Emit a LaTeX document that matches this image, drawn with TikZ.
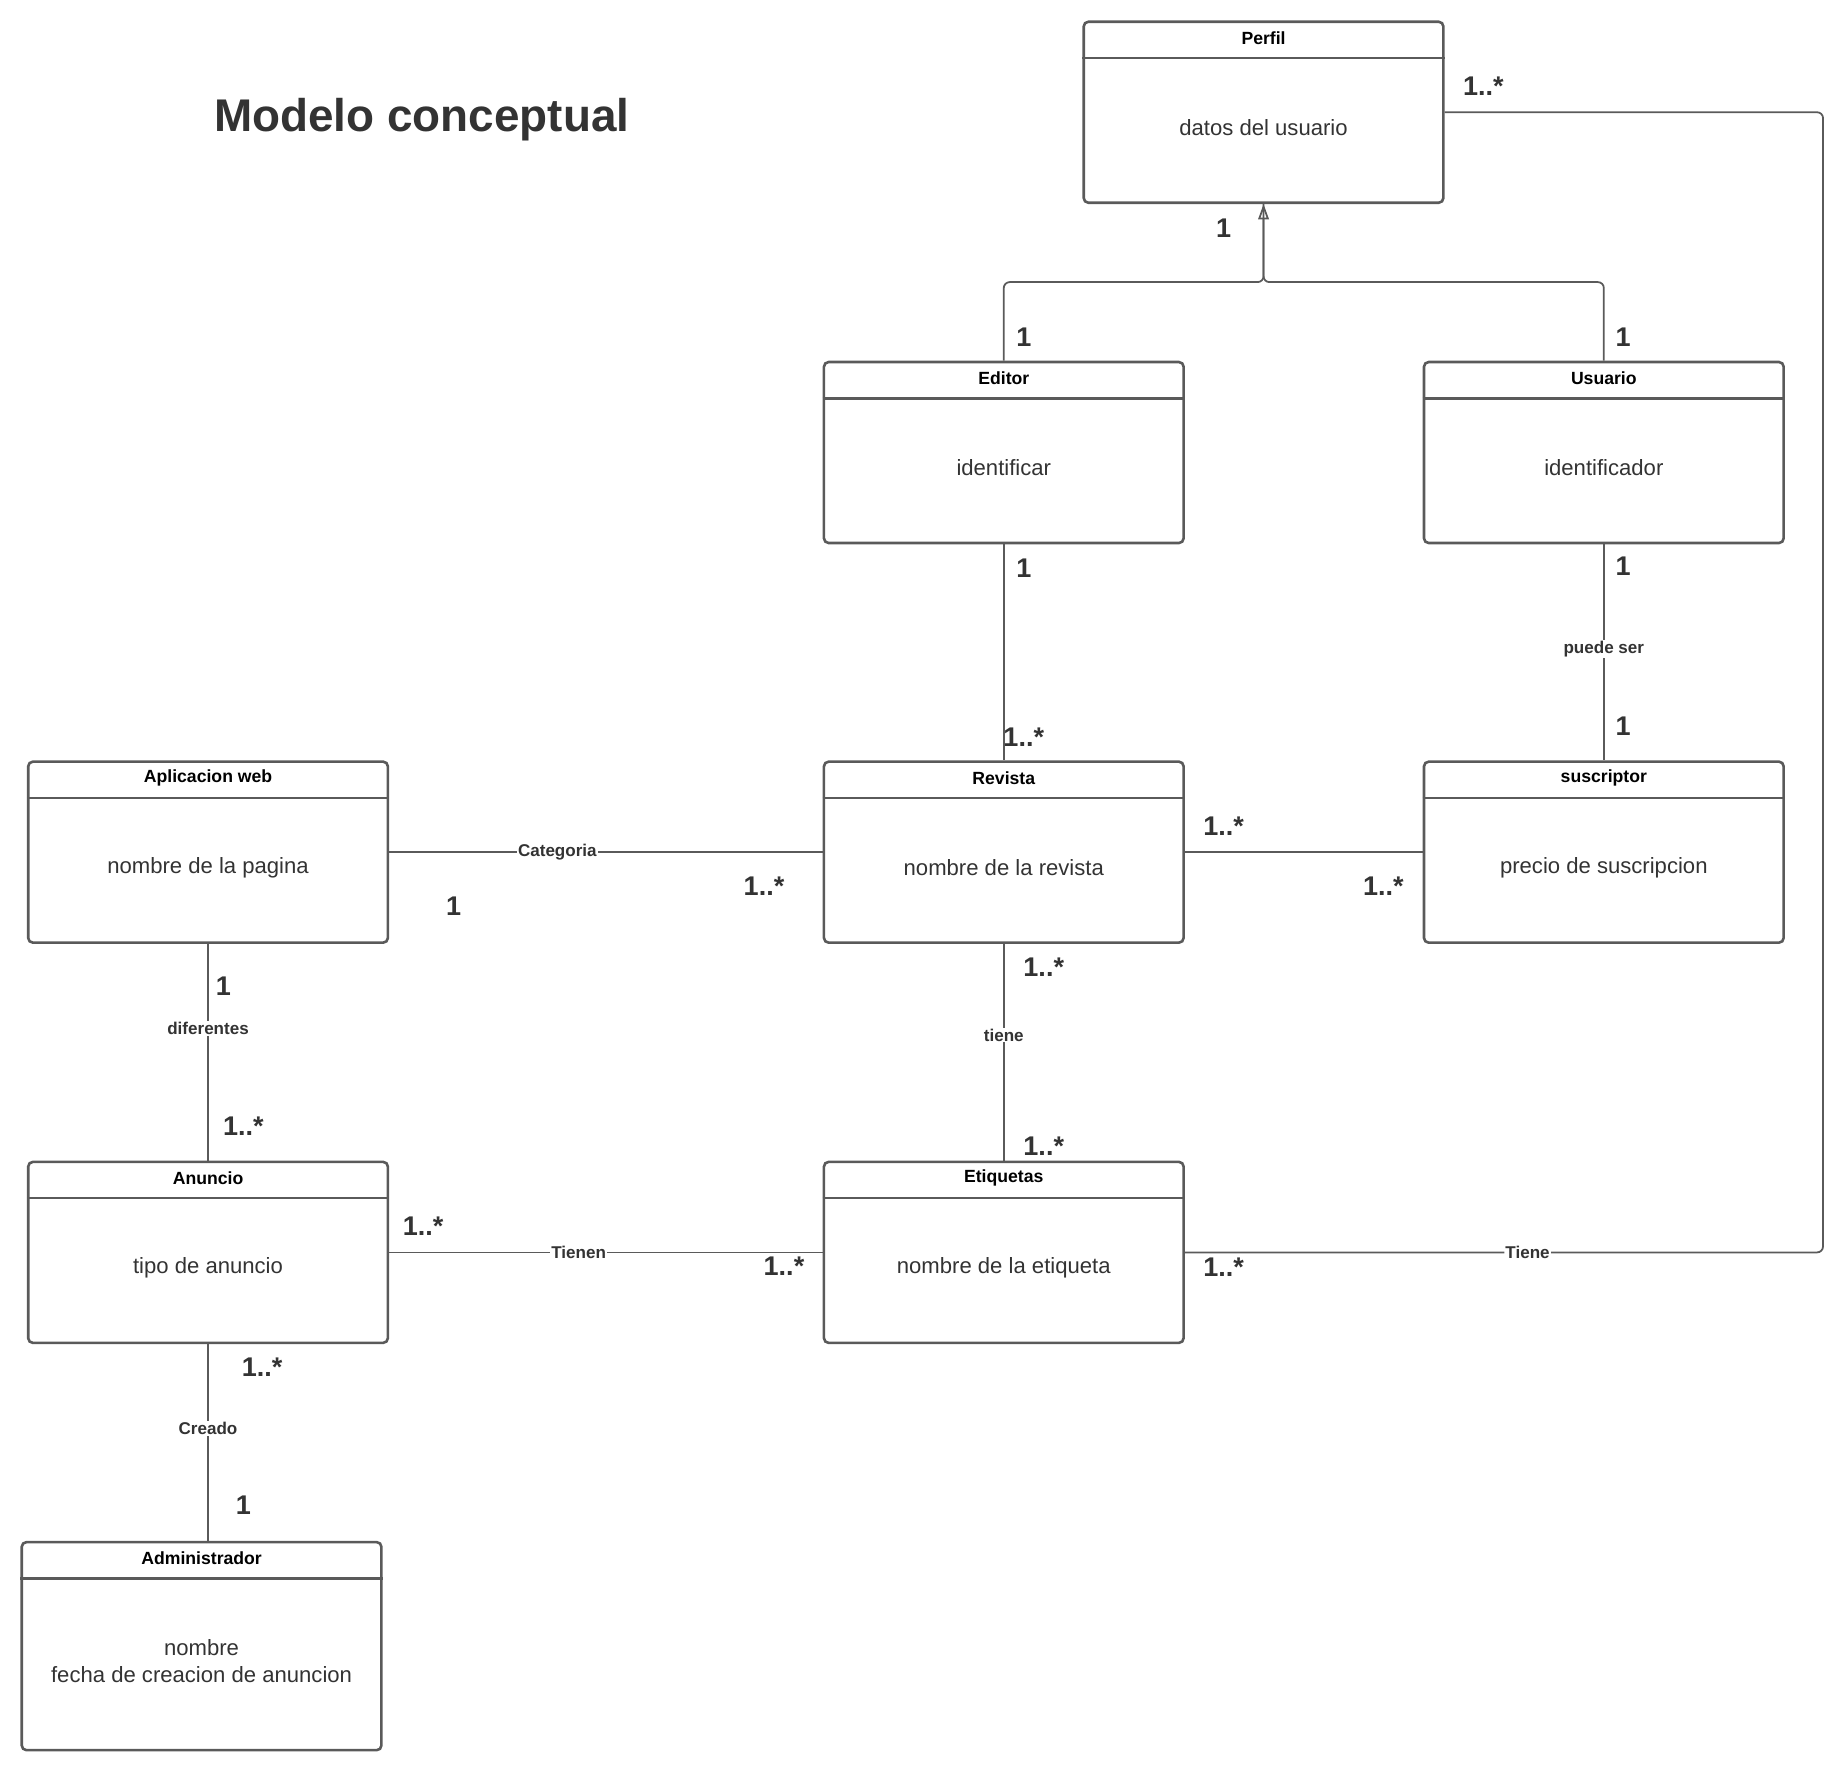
\documentclass[tikz,border=0pt]{standalone}
\usepackage{fontspec}
\setmainfont{Liberation Sans}
\usetikzlibrary{arrows.meta,positioning,calc}

\definecolor{borde}{HTML}{5A5A5A}
\definecolor{texto}{HTML}{333333}

\tikzset{
  clase/.style={draw=borde,line width=2.2pt,rounded corners=4pt,minimum width=306pt,minimum height=154pt,inner sep=0pt},
  cabecera/.style={font=\bfseries\fontsize{15}{17}\selectfont,text=black},
  cuerpo/.style={font=\fontsize{18.8}{23}\selectfont,text=texto,align=center},
  linea/.style={draw=borde,line width=1.5pt},
  etiqueta/.style={font=\bfseries\fontsize{14.5}{16}\selectfont,text=texto,fill=white,inner sep=1pt},
  mult/.style={font=\bfseries\fontsize{23}{25}\selectfont,text=texto,inner sep=0pt}
}

\begin{document}
\begin{tikzpicture}[x=1pt,y=-1pt]
\useasboundingbox (0,0) rectangle (1568,1507);

% titulo
\node[font=\bfseries\fontsize{39}{44}\selectfont,text=texto,anchor=base west,inner sep=0pt] (titulo) at (182,112) {Modelo conceptual};

% clases
\node[clase] (perfil) at (1075,95.5) {};
\node[clase] (editor) at (854,385) {};
\node[clase] (usuario) at (1364.5,385) {};
\node[clase] (apweb) at (177,725) {};
\node[clase] (revista) at (854,725) {};
\node[clase] (suscriptor) at (1364.5,725) {};
\node[clase] (anuncio) at (177,1065.5) {};
\node[clase] (etiquetas) at (854,1065.5) {};
\node[clase,minimum height=177pt] (admin) at (171.5,1400.5) {};

% cabeceras
\foreach \c/\t in {perfil/Perfil,editor/Editor,usuario/Usuario,apweb/Aplicacion web,revista/Revista,suscriptor/suscriptor,anuncio/Anuncio,etiquetas/Etiquetas,admin/Administrador}{
  \draw[draw=borde,line width=2.2pt] ([yshift=-32]\c.north west) -- ([yshift=-32]\c.north east);
  \node[cabecera] (\c-titulo) at ([yshift=-15]\c.north) {\t};
}

% atributos
\node[cuerpo] (perfil-attr) at ([yshift=-13]perfil.center) {datos del usuario};
\node[cuerpo] (editor-attr) at ([yshift=-13]editor.center) {identificar};
\node[cuerpo] (usuario-attr) at ([yshift=-13]usuario.center) {identificador};
\node[cuerpo] (apweb-attr) at ([yshift=-13]apweb.center) {nombre de la pagina};
\node[cuerpo] (revista-attr) at ([yshift=-13]revista.center) {nombre de la revista};
\node[cuerpo] (suscriptor-attr) at ([yshift=-13]suscriptor.center) {precio de suscripcion};
\node[cuerpo] (anuncio-attr) at ([yshift=-13]anuncio.center) {tipo de anuncio};
\node[cuerpo] (etiquetas-attr) at ([yshift=-13]etiquetas.center) {nombre de la etiqueta};
\node[cuerpo] (admin-attr) at ([yshift=-13]admin.center) {nombre\\fecha de creacion de anuncion};

% herencia
\coordinate (union) at (1075,240);
\draw[linea,rounded corners=5pt] (usuario.north) |- (union) -- (perfil.south);
\draw[linea,rounded corners=5pt,-{Triangle[open,length=13pt,width=9pt]}] (editor.north) |- (union) -- (perfil.south);

% asociaciones
\coordinate (borde-der) at (1551,0);
\draw[linea,rounded corners=5pt] (perfil.east) -| (borde-der |- etiquetas.east) -- node[etiqueta,pos=0.463] (l-tiene2) {Tiene} (etiquetas.east);
\draw[linea] (editor.south) -- (revista.north);
\draw[linea] (usuario.south) -- node[etiqueta,pos=0.484] (l-puede) {puede ser} (suscriptor.north);
\draw[linea] (apweb.east) -- node[etiqueta,pos=0.388] (l-cat) {Categoria} (revista.west);
\draw[linea] (revista.east) -- (suscriptor.west);
\draw[linea] (apweb.south) -- node[etiqueta,pos=0.39] (l-dif) {diferentes} (anuncio.north);
\draw[linea] (revista.south) -- node[etiqueta,pos=0.42] (l-tiene) {tiene} (etiquetas.north);
\draw[linea] (anuncio.east) -- node[etiqueta,pos=0.437] (l-tienen) {Tienen} (etiquetas.west);
\draw[linea] (anuncio.south) -- node[etiqueta,pos=0.43] (l-creado) {Creado} (anuncio.south |- admin.north);

% multiplicidades
\node[mult] (m1) at (1262,73) {1..*};
\node[mult] (m2) at (1041,194) {1};
\node[mult] (m3) at (871,287) {1};
\node[mult] (m4) at (1381,287) {1};
\node[mult] (m5) at (871,483) {1};
\node[mult] (m6) at (871,627) {1..*};
\node[mult] (m7) at (1381,482) {1};
\node[mult] (m8) at (1381,618) {1};
\node[mult] (m9) at (1041,703) {1..*};
\node[mult] (m10) at (1177,754) {1..*};
\node[mult] (m11) at (386,771) {1};
\node[mult] (m12) at (650,754) {1..*};
\node[mult] (m13) at (190,839) {1};
\node[mult] (m14) at (207,958) {1..*};
\node[mult] (m15) at (888,823) {1..*};
\node[mult] (m16) at (888,975) {1..*};
\node[mult] (m17) at (360,1043) {1..*};
\node[mult] (m18) at (667,1077) {1..*};
\node[mult] (m19) at (1041,1078) {1..*};
\node[mult] (m20) at (223,1163) {1..*};
\node[mult] (m21) at (207,1281) {1};
\end{tikzpicture}
\end{document}
